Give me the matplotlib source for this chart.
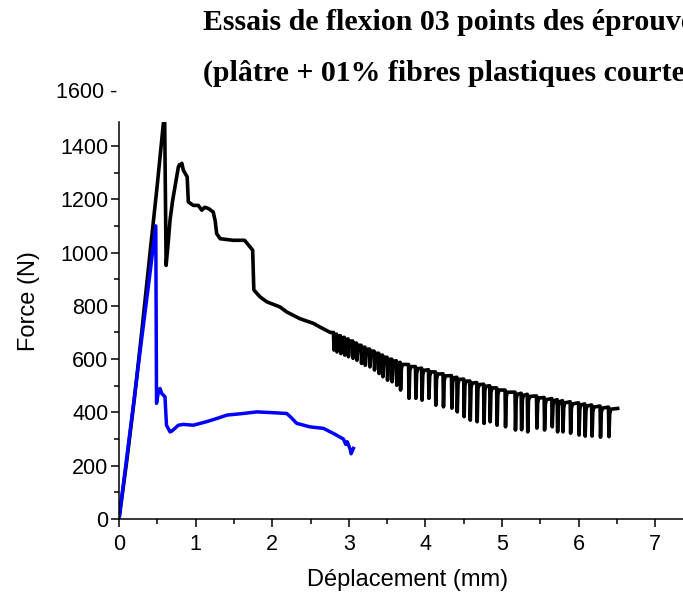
import numpy as np
import matplotlib
matplotlib.use("Agg")
import matplotlib.pyplot as plt
from matplotlib.ticker import MultipleLocator

# --- data ---
# black specimen: smooth part before the saw-tooth
black_x = [0, 0.1, 0.2, 0.3, 0.4, 0.5, 0.595, 0.615, 0.64, 0.666, 0.7, 0.73, 0.775, 0.79,
           0.805, 0.82, 0.84, 0.89, 0.905, 0.97, 1.035, 1.08, 1.12, 1.17, 1.23, 1.255, 1.275,
           1.32, 1.49, 1.64, 1.71, 1.745, 1.76, 1.84, 1.93, 2.10, 2.19, 2.36, 2.54, 2.62, 2.76]
black_y = [0, 215, 450, 710, 985, 1255, 1530, 952, 1030, 1121, 1195, 1246, 1321, 1330,
           1327, 1335, 1309, 1284, 1190, 1177, 1177, 1159, 1170, 1165, 1152, 1120, 1071,
           1052, 1046, 1046, 1021, 1009, 860, 834, 815, 796, 777, 752, 734, 721, 700]

# black specimen: saw-tooth region (drop position, level before drop, bottom of drop)
tooth_x = [2.80, 2.84, 2.89, 2.94, 2.99, 3.05, 3.10, 3.16, 3.21, 3.27,
           3.33, 3.39, 3.44, 3.50, 3.56, 3.62, 3.67, 3.78, 3.87, 3.95,
           4.04, 4.13, 4.23, 4.34, 4.41, 4.50, 4.58, 4.67, 4.76, 4.84,
           4.93, 5.04, 5.17, 5.25, 5.33, 5.45, 5.55, 5.65, 5.72, 5.79,
           5.89, 6.00, 6.08, 6.17, 6.28, 6.39]
tooth_top = [700, 694, 688, 682, 676, 668, 660, 652, 645, 638,
             630, 622, 615, 607, 600, 594, 588, 580, 572, 566,
             560, 552, 545, 538, 532, 525, 518, 512, 506, 500,
             492, 484, 476, 472, 468, 462, 456, 452, 448, 444,
             440, 436, 432, 428, 424, 420]
tooth_low = [634, 627, 621, 615, 609, 603, 596, 584, 577, 571,
             559, 546, 534, 521, 515, 502, 484, 453, 453, 446,
             453, 427, 421, 416, 402, 384, 371, 365, 359, 365,
             352, 346, 334, 335, 327, 341, 334, 346, 327, 327,
             322, 315, 311, 311, 307, 309]
black_end = (6.51, 415)

blue_x = [0, 0.1, 0.2, 0.3, 0.4, 0.48, 0.49, 0.51, 0.535, 0.56, 0.60, 0.62, 0.666, 0.69,
          0.775, 0.84, 0.97, 1.14, 1.275, 1.41, 1.62, 1.80, 2.01, 2.19, 2.25, 2.32, 2.49,
          2.67, 2.80, 2.93, 2.96, 2.98, 3.02, 3.03, 3.06]
blue_y = [0, 228, 455, 685, 912, 1100, 434, 470, 490, 470, 459, 352, 327, 330,
          352, 355, 352, 365, 377, 390, 396, 402, 399, 396, 380, 359, 346,
          340, 321, 300, 280, 290, 260, 245, 265]

x_ticks = [0, 1, 2, 3, 4, 5, 6, 7]
y_ticks = [0, 200, 400, 600, 800, 1000, 1200, 1400]

title_1 = "Essais de flexion 03 points des éprouvettes"
title_2 = "(plâtre + 01% fibres plastiques courtes)"


# build the saw-tooth path: sharp drop, steep climb back, rounded top
saw_x, saw_y = [], []
for xi, top, low in zip(tooth_x, tooth_top, tooth_low):
    saw_x += [xi, xi + 0.006, xi + 0.016, xi + 0.03]
    saw_y += [top, low, top - 25, top - 8]
saw_x.append(black_end[0])
saw_y.append(black_end[1])

bx = np.array(black_x + saw_x)
by = np.array(black_y + saw_y)

plt.rcParams['font.family'] = ['Liberation Sans', 'DejaVu Sans']

fig = plt.figure(figsize=(6.83, 5.94), dpi=100)
ax = fig.add_axes([119 / 683, 75 / 594, 574.5 / 683, 397 / 594])

ax.plot(bx, by, color='black', lw=2.6, solid_joinstyle='round')
ax.plot(blue_x, blue_y, color='#0000ff', lw=2.5, solid_joinstyle='round')

ax.set_xlim(0, 7.5)
ax.set_ylim(0, 1490)

ax.spines['top'].set_visible(False)
ax.spines['right'].set_visible(False)
ax.spines['left'].set_linewidth(1.1)
ax.spines['bottom'].set_linewidth(1.1)

ax.set_xticks(x_ticks)
ax.set_yticks(y_ticks)
ax.xaxis.set_minor_locator(MultipleLocator(0.5))
ax.yaxis.set_minor_locator(MultipleLocator(100))
ax.tick_params(which='major', direction='out', length=5.5, width=1.1, labelsize=15.5, pad=2)
ax.tick_params(axis='x', which='major', pad=5)
ax.tick_params(which='minor', direction='out', length=3.5, width=1.1)

# the 1600 label sits above the end of the axis line
ax.text(-0.003, 1600, "1600 -", transform=ax.get_yaxis_transform(),
        ha='right', va='center', fontsize=15.5, clip_on=False)

ax.set_xlabel("Déplacement (mm)", fontsize=17)
ax.set_ylabel("Force (N)", fontsize=17)
ax.xaxis.set_label_coords(0.503, -0.125)
ax.yaxis.set_label_coords(-0.137, 0.55)

# the title runs past the right edge, as in the original figure
fig.text(203 / 683, 1 - 22 / 594, title_1, ha='left', va='center',
         fontsize=21.5, fontweight='bold', family='Liberation Serif')
fig.text(203 / 683, 1 - 73 / 594, title_2, ha='left', va='center',
         fontsize=21.5, fontweight='bold', family='Liberation Serif')

fig.savefig("out.png", dpi=100)
